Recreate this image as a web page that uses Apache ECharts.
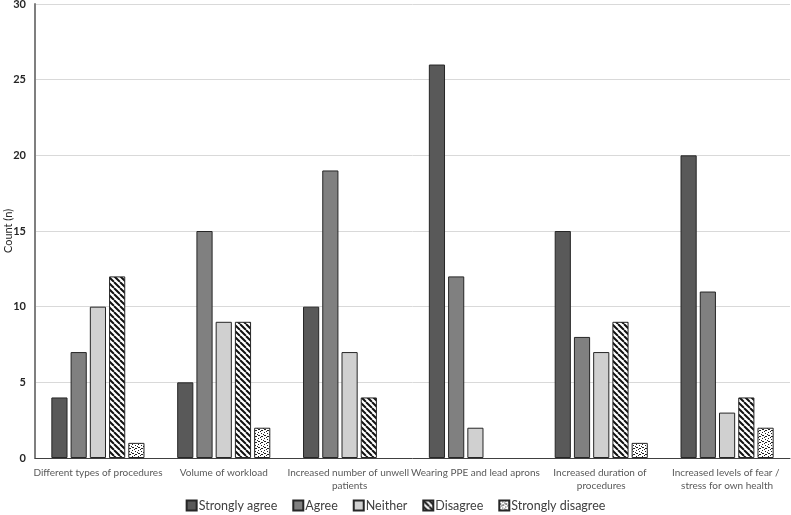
<!DOCTYPE html>
<html><head><meta charset="utf-8">
<script src="https://cdn.jsdelivr.net/npm/echarts@6/dist/echarts.min.js"></script>
<style>html,body{margin:0;padding:0;background:#fff}#c{width:791px;height:515px}</style>
</head><body><div id="c"></div>
<script>
const categories = ["Different types of procedures","Volume of workload","Increased number of unwell patients","Wearing PPE and lead aprons","Increased duration of procedures","Increased levels of fear / stress for own health"];
const seriesNames = ["Strongly agree","Agree","Neither","Disagree","Strongly disagree"];
const stronglyAgree = [4,5,10,26,15,20];
const agree = [7,15,19,12,8,11];
const neither = [10,9,7,2,7,3];
const disagree = [12,9,4,0,9,4];
const stronglyDisagree = [1,2,0,0,1,2];
const yTicks = [0,5,10,15,20,25,30];

function stripe(){
  const s=6,c=document.createElement('canvas');c.width=s;c.height=s;const g=c.getContext('2d');
  g.fillStyle='#fff';g.fillRect(0,0,s,s);g.strokeStyle='#111';g.lineWidth=2;
  g.beginPath();
  for(const o of [-s,0,s]){g.moveTo(o,0);g.lineTo(o+s,s);}
  g.stroke();return c;
}
function dots(){
  const s=6,c=document.createElement('canvas');c.width=s;c.height=s;const g=c.getContext('2d');
  g.fillStyle='#fff';g.fillRect(0,0,s,s);g.fillStyle='#222';
  const pts=[[0,0],[3,1],[1,3],[4,4],[2,5],[5,2],[0,3],[3,4]];
  pts.forEach(p=>g.fillRect(p[0],p[1],1,1));return c;
}
const fills = ['#595959','#808080','#d0d0d0',{image:stripe(),repeat:'repeat'},{image:dots(),repeat:'repeat'}];
const values = [stronglyAgree,agree,neither,disagree,stronglyDisagree];

const chart = echarts.init(document.getElementById('c'));
chart.setOption({
  animation:false,
  grid:{left:35,right:1,top:4,bottom:57,containLabel:false,outerBoundsMode:'none'},
  legend:{top:499,left:'center',icon:'rect',itemWidth:10,itemHeight:10,itemGap:15,padding:[0,5],
    textStyle:{fontFamily:'Lato',fontSize:12.5,color:'#404040',padding:[0,0,0,-3]},
    data:seriesNames},
  xAxis:{type:'category',data:categories,
    axisLine:{lineStyle:{color:'#404040',width:1}},axisTick:{show:false},
    axisLabel:{interval:0,fontFamily:'Lato',fontSize:10,color:'#595959',width:131,overflow:'break',lineHeight:13,margin:8}},
  yAxis:{type:'value',min:0,max:30,interval:5,name:'Count (n)',nameLocation:'middle',nameGap:21,nameMoveOverlap:false,
    nameTextStyle:{fontFamily:'Lato',fontSize:11,color:'#262626'},
    axisLine:{show:true,lineStyle:{color:'#7f7f7f',width:2}},axisTick:{show:false},
    splitLine:{lineStyle:{color:'#d9d9d9'}},
    axisLabel:{fontFamily:'Lato',fontSize:11,color:'#262626',fontWeight:'bold',margin:9,
      formatter:v=>yTicks.includes(v)?String(v):''}},
  series:seriesNames.map((n,i)=>({name:n,type:'bar',data:values[i].map(v=>v===0?'-':v),barGap:'19%',barCategoryGap:'26%',
    itemStyle:{color:fills[i],borderColor:'#262626',borderWidth:1}}))
});
</script></body></html>
